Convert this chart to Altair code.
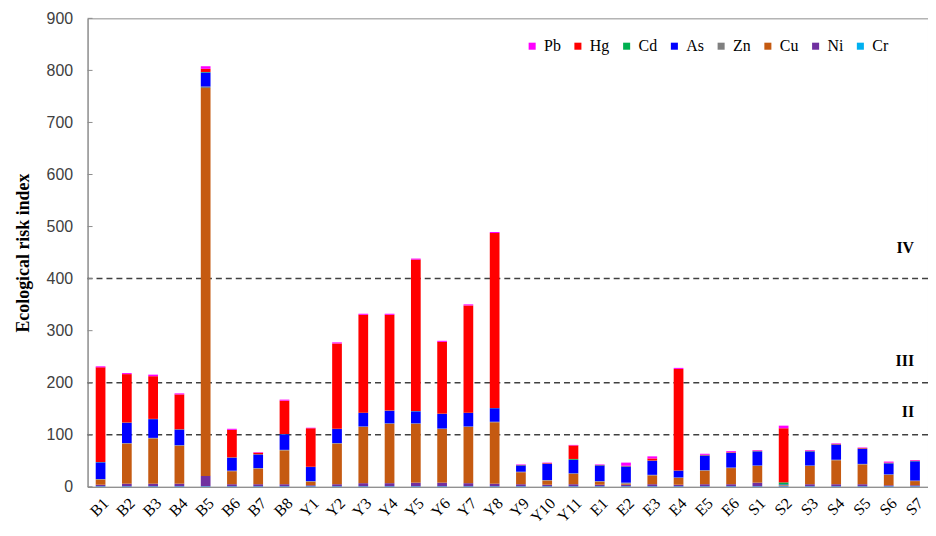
import altair as alt
import pandas as pd

sites = ["B1", "B2", "B3", "B4", "B5", "B6", "B7", "B8",
         "Y1", "Y2", "Y3", "Y4", "Y5", "Y6", "Y7", "Y8", "Y9", "Y10", "Y11",
         "E1", "E2", "E3", "E4", "E5", "E6",
         "S1", "S2", "S3", "S4", "S5", "S6", "S7"]

legend_order = ["Pb", "Hg", "Cd", "As", "Zn", "Cu", "Ni", "Cr"]
stack_order = ["Cr", "Ni", "Cu", "Zn", "As", "Cd", "Hg", "Pb"]
colors = ["#FF00FF", "#FF0000", "#00B050", "#0000FF", "#808080", "#C55A11", "#7030A0", "#00B0F0"]

Cr = [1] * 32
Ni = [3, 5, 5, 5, 20, 4, 4, 4,
      2, 4, 6, 6, 7, 7, 6, 5, 4, 3, 4,
      3, 3, 4, 3, 4, 4,
      7, 1, 4, 4, 4, 2, 2]
Cu = [10, 77, 87, 73, 745, 25, 30, 65,
      7, 78, 108, 114, 113, 103, 108, 118, 23, 8, 20,
      6, 2, 17, 13, 26, 31,
      32, 1, 35, 46, 38, 20, 8]
Zn = [1, 1, 1, 1, 3, 1, 1, 1,
      1, 1, 1, 1, 1, 1, 1, 1, 1, 1, 1,
      1, 2, 1, 1, 1, 1,
      1, 0.5, 1, 1, 1, 1, 1]
As = [32, 39, 36, 30, 27, 25, 26, 30,
      27, 27, 26, 24, 23, 28, 26, 26, 12, 31, 26,
      30, 31, 27, 13, 28, 28,
      27, 1, 27, 29, 29, 21, 37]
Cd = [0.5, 0.5, 0.5, 0.5, 1, 0.5, 0.5, 0.5,
      0.5, 0.5, 0.5, 0.5, 0.5, 0.5, 0.5, 0.5, 0.5, 0.5, 1.5,
      0.5, 0.5, 0.5, 0.5, 0.5, 0.5,
      0.5, 4, 0.5, 0.5, 0.5, 0.5, 0.5]
Hg = [182, 93, 82, 67, 6, 53, 3, 64,
      74, 164, 188, 184, 291, 138, 206, 336, 0.5, 1, 26,
      0.5, 1, 4, 195, 1, 1,
      1, 104, 1, 1, 1, 1, 1]
Pb = [2, 2, 3, 2, 5, 2, 1, 2,
      1, 2, 2, 2, 2, 2, 2, 2, 1, 1, 1,
      1, 6, 4, 2, 2, 2,
      1, 5, 1, 1, 1, 2, 1]

series = {"Cr": Cr, "Ni": Ni, "Cu": Cu, "Zn": Zn, "As": As, "Cd": Cd, "Hg": Hg, "Pb": Pb}

rows = []
for elem, vals in series.items():
    for s, v in zip(sites, vals):
        rows.append({"site": s, "element": elem, "value": v, "ord": stack_order.index(elem)})
df = pd.DataFrame(rows)

y_ticks = [0, 100, 200, 300, 400, 500, 600, 700, 800, 900]
levels = [100, 200, 400]
level_names = ["II", "III", "IV"]
level_label_y = [143, 241, 459]

y_scale = alt.Scale(domain=[0, 900], nice=False)

bars = alt.Chart(df).mark_bar().encode(
    x=alt.X("site:N", sort=sites,
            scale=alt.Scale(paddingInner=0.63, paddingOuter=0.31),
            axis=alt.Axis(title=None, labelAngle=-45, labelFont="Liberation Serif",
                          labelFontSize=16, labelColor="black", ticks=False,
                          domainColor="#8c8c8c", labelPadding=8)),
    y=alt.Y("value:Q", stack="zero", scale=y_scale,
            axis=alt.Axis(values=y_ticks, title="Ecological risk index",
                          titleFont="Liberation Serif", titleFontSize=18,
                          titleFontWeight="bold", titleColor="black",
                          labelFont="Liberation Sans", labelFontSize=16,
                          labelColor="#404040", ticks=False, grid=False,
                          domainColor="#8c8c8c", labelPadding=15, titlePadding=14)),
    color=alt.Color("element:N",
                    scale=alt.Scale(domain=legend_order, range=colors),
                    legend=alt.Legend(title=None, orient="none", legendX=439, legendY=20,
                                      direction="horizontal", symbolType="square",
                                      symbolSize=50, symbolStrokeWidth=0,
                                      labelFont="Liberation Serif", labelFontSize=16,
                                      labelColor="black", columnPadding=9,
                                      labelOffset=4)),
    order=alt.Order("ord:Q"),
)

tick_df = pd.DataFrame({"t": y_ticks})
ticks = alt.Chart(tick_df).mark_rule(color="#8c8c8c").encode(
    y=alt.Y("t:Q", scale=y_scale), x=alt.value(0), x2=alt.value(5)
)

lvl_df = pd.DataFrame({"level": levels, "name": level_names, "ly": level_label_y})
rules = alt.Chart(lvl_df).mark_rule(color="#404040", strokeDash=[6, 4], strokeWidth=1.5).encode(
    y=alt.Y("level:Q", scale=y_scale)
)
labels = alt.Chart(lvl_df).mark_text(font="Liberation Serif", fontSize=16, fontWeight="bold",
                                     align="right", color="black").encode(
    y=alt.Y("ly:Q", scale=y_scale), x=alt.value(831), text="name:N"
)

chart = alt.layer(rules, bars, ticks, labels).properties(
    width=845, height=471,
    autosize=alt.AutoSizeParams(type="none"),
    padding={"left": 80, "top": 9, "right": 0, "bottom": 39},
).configure_view(stroke="#8c8c8c")

chart.save("out.html", embed_options={"renderer": "svg", "actions": False})
